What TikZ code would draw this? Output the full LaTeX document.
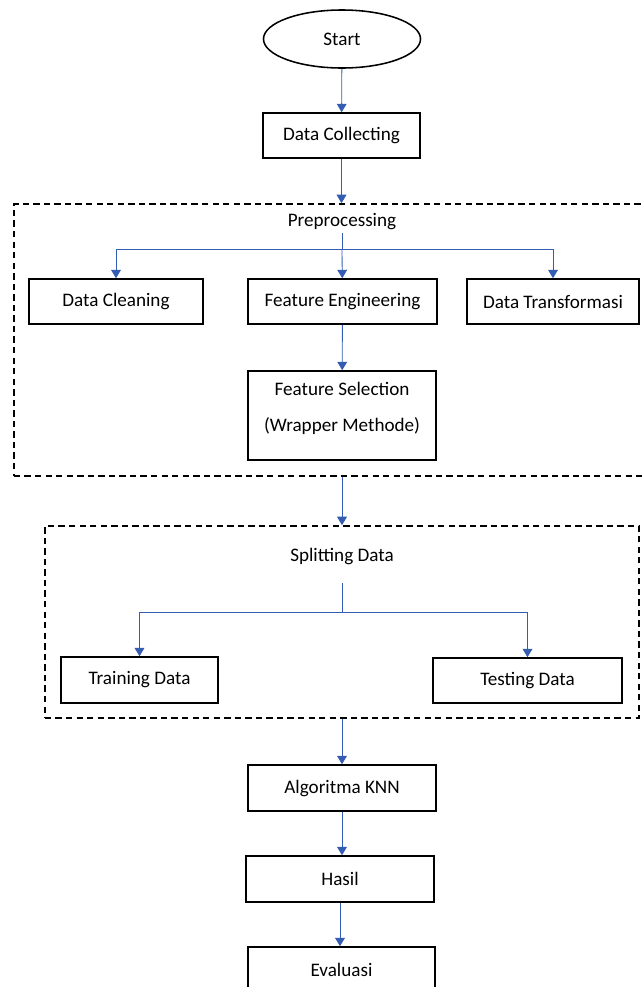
\documentclass[tikz,border=0pt]{standalone}
\usepackage{fontspec}
\setmainfont{Carlito}
\usepackage{tikz}
\usetikzlibrary{arrows.meta}
\usetikzlibrary{shapes.geometric}

\definecolor{flowblue}{RGB}{52,92,178}

\begin{document}
\begin{tikzpicture}[x=0.025cm, y=-0.025cm,
        box_style/.style={rectangle,draw=black,line width=1.1pt,minimum height=1.125cm,inner sep=0pt,font=\fontsize{13.6}{16}\selectfont},
        start_style/.style={ellipse,draw=black,line width=1.1pt,minimum width=3.925cm,minimum height=1.45cm,inner sep=0pt,font=\fontsize{13.6}{16}\selectfont},
        group_style/.style={rectangle,draw=black,line width=1.2pt,dash pattern=on 4.5pt off 3pt,inner sep=0pt},
        label_style/.style={inner sep=2pt,font=\fontsize{13.6}{16}\selectfont},
        line_style/.style={draw=flowblue, line width=0.6pt},
        arrow_style/.style={draw=flowblue, line width=0.6pt,-{Triangle[length=6pt,width=7pt]}}]

        \useasboundingbox (0,0) rectangle (642,987);

        \node [start_style](start) at (342,39) {Start};

        \node [box_style,minimum width=3.925cm](collect) at (341.5,135.5) {Data Collecting};

        \node [group_style,minimum width=15.9cm,minimum height=6.8cm](prep_box) at (332,340) {};

        \node [label_style](prep_label) at (342,222) {Preprocessing};

        \coordinate (prep_fork) at (342,249);

        \node [box_style,minimum width=4.35cm](clean) at (116,301.5) {Data Cleaning};

        \node [box_style,minimum width=4.725cm](feature) at (342.5,301.5) {Feature Engineering};

        \node [box_style,minimum width=4.3cm](transform) at (553,301.5) {Data Transformasi};

        \node [box_style,minimum width=4.7cm,minimum height=2.225cm,align=center](select) at (342,415.5) {Feature Selection\\[10pt](Wrapper Methode)\\[-4pt]};

        \node [group_style,minimum width=14.85cm,minimum height=4.8cm](split_box) at (342,622) {};

        \node [label_style](split_label) at (342,556) {Splitting Data};

        \coordinate (split_top) at (342,583);

        \coordinate (split_fork) at (342,612);

        \node [box_style,minimum width=3.925cm,minimum height=1.15cm](train) at (139.5,680) {Training Data};

        \node [box_style,minimum width=4.725cm](test) at (527.5,680.5) {Testing Data};

        \node [box_style,minimum width=4.7cm,minimum height=1.15cm](knn) at (342,788) {Algoritma KNN};

        \node [box_style,minimum width=4.7cm,minimum height=1.15cm](result) at (340,879) {Hasil};

        \node [box_style,minimum width=4.675cm,minimum height=1.15cm](eval) at (341.5,970) {Evaluasi};

        \draw [arrow_style] (start) -- (collect);

        \draw [arrow_style] (collect) -- (collect |- prep_box.north);

        \draw [line_style] (prep_label) -- (prep_fork);

        \draw [arrow_style] (prep_fork) -| (clean);

        \draw [arrow_style] (prep_fork) -- (feature);

        \draw [arrow_style] (prep_fork) -| (transform);

        \draw [arrow_style] (feature) -- (select);

        \draw [arrow_style] (split_box.north |- prep_box.south) -- (split_box);

        \draw [line_style] (split_top) -- (split_fork);

        \draw [arrow_style] (split_fork) -| (train);

        \draw [arrow_style] (split_fork) -| (test);

        \draw [arrow_style] (split_box) -- (knn);

        \draw [arrow_style] (knn) -- (knn |- result.north);

        \draw [arrow_style] (result) -- (result |- eval.north);

        \end{tikzpicture}
\end{document}
